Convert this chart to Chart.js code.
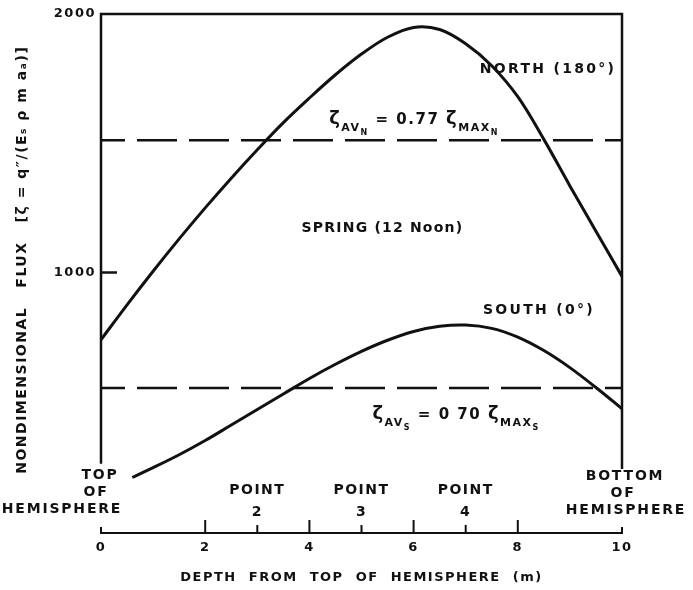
<!DOCTYPE html>
<html>
<head>
<meta charset="utf-8">
<script src="https://cdn.jsdelivr.net/npm/chart.js@4.4.1/dist/chart.umd.min.js"></script>
<style>
  html, body { margin: 0; padding: 0; background: #fff; }
  #wrap { width: 693px; height: 590px; }
</style>
</head>
<body>
<div id="wrap"><canvas id="chart" width="693" height="590"></canvas></div>
<script>
// depth along the hemisphere (m)
const NORTH_DEPTH = [0, 0.5, 1, 1.5, 2, 2.5, 3, 3.5, 4, 4.5, 5, 5.5, 6, 6.5, 7, 7.5, 8, 8.5, 9, 9.5, 10];
const NORTH_FLUX = [740, 875, 1005, 1130, 1250, 1365, 1475, 1580, 1675, 1765, 1845, 1910, 1948, 1940, 1885, 1800, 1680, 1515, 1335, 1160, 985];

const SOUTH_DEPTH = [0.6, 1, 1.5, 2, 2.5, 3, 3.5, 4, 4.5, 5, 5.5, 6, 6.5, 7, 7.5, 8, 8.5, 9, 9.5, 10];
const SOUTH_FLUX = [207, 245, 295, 350, 410, 470, 530, 590, 645, 695, 738, 772, 792, 797, 784, 750, 698, 632, 555, 473];

// average flux lines (0.77 and 0.70 of the maximum)
const NORTH_AVG = 1512;
const SOUTH_AVG = 553;

const X_TICKS = [0, 2, 4, 6, 8, 10];
const POINT_TICKS = [3, 5, 7];
const Y_TICKS = [1000, 2000];

const INK = "#111";
const FONT = '"DejaVu Sans", sans-serif';

// draws text made of pieces with different sizes / offsets (subscripts)
function drawRuns(ctx, x, y, parts) {
  let cx = x;
  parts.forEach(([t, size, dy]) => {
    ctx.font = "bold " + size + "px " + FONT;
    ctx.fillText(t, cx, y + dy);
    cx += ctx.measureText(t).width;
  });
}

const framePlugin = {
  id: "frame",
  beforeDraw(chart) {
    chart.ctx.letterSpacing = "1.5px";
  },
  afterDraw(chart) {
    const ctx = chart.ctx;
    const xs = chart.scales.x;
    const ys = chart.scales.y;
    const X = (v) => xs.getPixelForValue(v);
    const Y = (v) => ys.getPixelForValue(v);
    const x0 = X(0), x10 = X(10), top = Y(2000);

    ctx.save();
    ctx.strokeStyle = INK;
    ctx.fillStyle = INK;
    ctx.lineCap = "butt";

    // plot box (no bottom edge)
    ctx.lineWidth = 2.5;
    ctx.beginPath();
    ctx.moveTo(x0, Y(260));
    ctx.lineTo(x0, top);
    ctx.lineTo(x10, top);
    ctx.lineTo(x10, Y(240));
    ctx.stroke();

    // y tick at 1000
    ctx.beginPath();
    ctx.moveTo(x0, Y(1000));
    ctx.lineTo(x0 + 16, Y(1000));
    ctx.stroke();

    // x axis bracket with ticks pointing up
    const base = Y(0) + 2;
    ctx.lineWidth = 2;
    ctx.beginPath();
    ctx.moveTo(x0, base - 6);
    ctx.lineTo(x0, base);
    ctx.lineTo(x10, base);
    ctx.lineTo(x10, base - 6);
    X_TICKS.slice(1, -1).forEach((v) => {
      ctx.moveTo(X(v), base);
      ctx.lineTo(X(v), base - 13);
    });
    POINT_TICKS.forEach((v) => {
      ctx.moveTo(X(v), base);
      ctx.lineTo(X(v), base - 8);
    });
    ctx.stroke();

    // labels
    ctx.textBaseline = "alphabetic";
    ctx.textAlign = "left";
    ctx.font = "bold 14px " + FONT;
    ctx.letterSpacing = "2.3px";
    ctx.fillText("NORTH (180°)", X(7.27), Y(1771));
    ctx.fillText("SOUTH (0°)", X(7.33), Y(841));
    ctx.letterSpacing = "1.2px";
    ctx.fillText("SPRING (12 Noon)", X(3.85), Y(1155));

    ctx.letterSpacing = "1.5px";
    drawRuns(ctx, X(4.38), Y(NORTH_AVG + 62), [
      ["ζ", 18, 0], ["AV", 11, 7], ["N", 8, 11], [" = 0.77 ", 15, 0],
      ["ζ", 18, 0], ["MAX", 11, 7], ["N", 8, 11]
    ]);
    drawRuns(ctx, X(5.21), Y(SOUTH_AVG - 118), [
      ["ζ", 18, 0], ["AV", 11, 7], ["S", 8, 11], [" = 0 70 ", 15, 0],
      ["ζ", 18, 0], ["MAX", 11, 7], ["S", 8, 11]
    ]);

    ctx.font = "bold 14px " + FONT;
    ctx.textAlign = "center";
    ctx.letterSpacing = "1.8px";
    ctx.fillText("TOP", x0 - 1, 479);
    ctx.fillText("OF", x0 - 5, 496);
    ctx.fillText("HEMISPHERE", x0 - 39, 513);
    ctx.fillText("BOTTOM", x10 + 3, 480);
    ctx.fillText("OF", x10 + 1, 497);
    ctx.fillText("HEMISPHERE", x10 + 4, 514);
    ctx.letterSpacing = "1.5px";
    POINT_TICKS.forEach((v, i) => {
      ctx.fillText("POINT", X(v), 494);
      ctx.fillText(String(i + 2), X(v), 516);
    });
    ctx.restore();
    ctx.letterSpacing = "0px";
  }
};

const pts = (xs, ys) => xs.map((x, i) => ({ x: x, y: ys[i] }));

new Chart(document.getElementById("chart"), {
  type: "line",
  data: {
    datasets: [
      {
        label: "North (180°)",
        data: pts(NORTH_DEPTH, NORTH_FLUX),
        borderColor: INK,
        borderWidth: 3,
        pointRadius: 0,
        tension: 0.35,
        fill: false
      },
      {
        label: "South (0°)",
        data: pts(SOUTH_DEPTH, SOUTH_FLUX),
        borderColor: INK,
        borderWidth: 3,
        pointRadius: 0,
        tension: 0.35,
        fill: false
      },
      {
        label: "ζ AV N",
        data: [{ x: 0, y: NORTH_AVG }, { x: 10, y: NORTH_AVG }],
        borderColor: INK,
        borderWidth: 2.5,
        borderDash: [40, 12],
        borderDashOffset: 16,
        pointRadius: 0
      },
      {
        label: "ζ AV S",
        data: [{ x: 0, y: SOUTH_AVG }, { x: 10, y: SOUTH_AVG }],
        borderColor: INK,
        borderWidth: 2.5,
        borderDash: [40, 12],
        borderDashOffset: 16,
        pointRadius: 0
      }
    ]
  },
  options: {
    responsive: false,
    animation: false,
    layout: { padding: { top: 14, right: 71, bottom: 0, left: 0 } },
    plugins: { legend: { display: false }, tooltip: { enabled: false } },
    scales: {
      x: {
        type: "linear",
        min: 0,
        max: 10,
        grid: { display: false, drawTicks: false },
        border: { display: false },
        afterBuildTicks: (s) => { s.ticks = X_TICKS.map((v) => ({ value: v })); },
        afterFit: (s) => { s.height = 59; },
        ticks: {
          color: INK,
          padding: 9,
          font: { family: FONT, size: 13, weight: "bold" },
          callback: (v) => String(v)
        },
        title: {
          display: true,
          text: "DEPTH  FROM  TOP  OF  HEMISPHERE  (m)",
          color: INK,
          font: { family: FONT, size: 13, weight: "bold" },
          padding: { top: 0, bottom: 5 }
        }
      },
      y: {
        min: 0,
        max: 2000,
        grid: { display: false, drawTicks: false },
        border: { display: false },
        afterBuildTicks: (s) => { s.ticks = Y_TICKS.map((v) => ({ value: v })); },
        afterFit: (s) => { s.width = 101; },
        ticks: {
          color: INK,
          padding: 5,
          font: { family: FONT, size: 13, weight: "bold" },
          callback: (v) => String(v)
        },
        title: {
          display: true,
          text: "    NONDIMENSIONAL   FLUX   [ζ = q″/(Eₛ ρ m aₐ)]",
          color: INK,
          font: { family: FONT, size: 14, weight: "bold" },
          padding: { top: 14, bottom: 0 }
        }
      }
    }
  },
  plugins: [framePlugin]
});
</script>
</body>
</html>
